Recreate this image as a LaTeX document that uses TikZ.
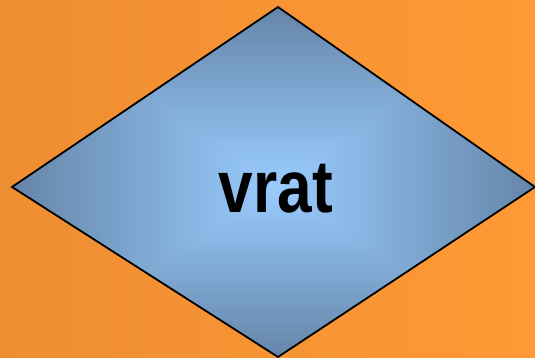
\documentclass[tikz,border=0pt]{standalone}
\usepackage{fontspec}
\setmainfont{Liberation Sans}
\definecolor{bgL}{HTML}{EE8E32}
\definecolor{bgR}{HTML}{FF9935}
\definecolor{dEdge}{HTML}{6585A8}
\definecolor{dCen}{HTML}{99CCFF}
\tikzset{
  outline/.style={draw=black, line width=1.8pt, line join=miter},
  label/.style={font=\bfseries\fontsize{74}{80}\selectfont, text=black, inner sep=0pt, xscale=0.84}
}
\begin{document}
\begin{tikzpicture}[x=1pt,y=-1pt]
\useasboundingbox (0,0) rectangle (535,358);
\shade[left color=bgL, right color=bgR] (0,0) rectangle (535,358);
\coordinate (T) at (278,7);
\coordinate (L) at (12,187);
\coordinate (R) at (535,187);
\coordinate (B) at (278,357);
\coordinate (C) at (278,187);
\begin{scope}
  \clip (T) -- (R) -- (B) -- (L) -- cycle;
  \shade[top color=dEdge, bottom color=dCen] (12,7) -- (535,7) -- (C) -- cycle;
  \shade[top color=dCen, bottom color=dEdge] (12,357) -- (535,357) -- (C) -- cycle;
  \shade[left color=dEdge, right color=dCen] (12,7) -- (12,357) -- (C) -- cycle;
  \shade[left color=dCen, right color=dEdge] (535,7) -- (535,357) -- (C) -- cycle;
\end{scope}
\draw[outline] (T) -- (R) -- (B) -- (L) -- cycle;
\node[label, anchor=base] (txt) at (276,212) {vrat};
\end{tikzpicture}
\end{document}
